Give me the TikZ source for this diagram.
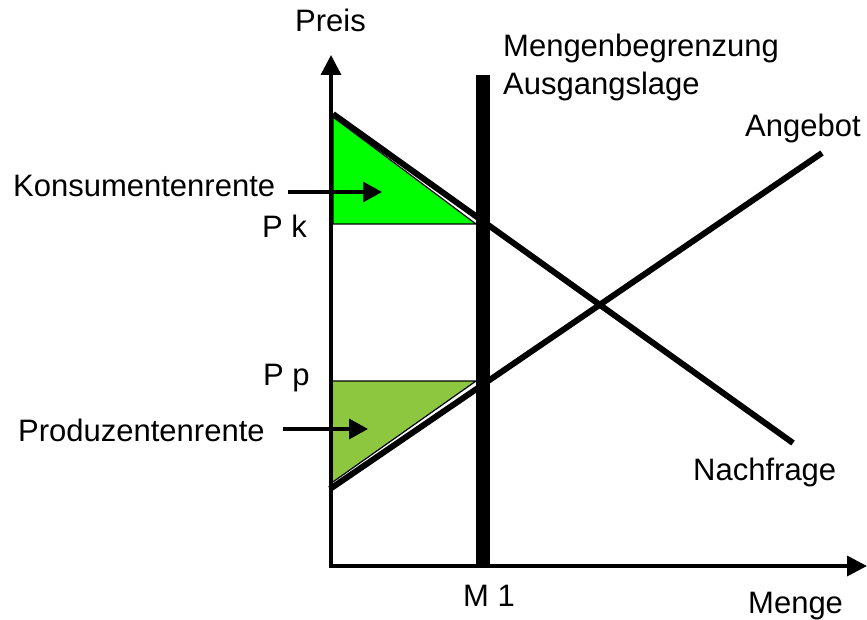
\documentclass[tikz,border=0pt]{standalone}
\usepackage{fontspec}
\setmainfont{Liberation Sans}
\usetikzlibrary{arrows.meta}
\definecolor{kgreen}{RGB}{0,255,0}
\definecolor{pgreen}{RGB}{141,198,63}
\begin{document}
\begin{tikzpicture}[x=1pt,y=-1pt,
  lbl/.style={font=\fontsize{31}{36}\selectfont, inner sep=0pt, anchor=base west},
  axisline/.style={line width=3.5pt, -{Triangle[length=20pt,width=20pt]}},
  curveline/.style={line width=6pt},
  pointer/.style={line width=3.5pt, -{Triangle[length=19pt,width=20pt]}},
  area/.style={draw=black, line width=1.2pt}]
\useasboundingbox (0,0) rectangle (867,620);

% coordinates
\coordinate (origin) at (331,566);
\coordinate (ytop) at (331,55);
\coordinate (xend) at (867,566);
\coordinate (dstart) at (333,114);
\coordinate (dend) at (793,443);
\coordinate (sstart) at (330,489);
\coordinate (send) at (822,153);
\coordinate (bartop) at (483,75);
\coordinate (barbot) at (483,566);

% surplus areas
\filldraw[area, fill=kgreen] (333,117) -- (333,224) -- (476,224) -- cycle;
\filldraw[area, fill=pgreen] (332,381) -- (476,381) -- (330,484) -- cycle;

% demand and supply
\draw[curveline] (dstart) -- (dend);
\draw[curveline] (sstart) -- (send);

% quantity limit
\draw[line width=14pt] (bartop) -- (barbot);

% axes
\draw[axisline] (331,568) -- (ytop);
\draw[axisline] (329,566) -- (xend);

% labels
\node[lbl] (preis) at (295,32) {Preis};
\node[lbl] (mb1) at (503,57) {Mengenbegrenzung};
\node[lbl] (mb2) at (503,95) {Ausgangslage};
\node[lbl] (angebot) at (745,137) {Angebot};
\node[lbl] (kons) at (13,197) {Konsumentenrente};
\node[lbl] (pk) at (262,238) {P k};
\node[lbl] (pp) at (263,385) {P p};
\node[lbl] (prod) at (18,441) {Produzentenrente};
\node[lbl] (nach) at (693,480) {Nachfrage};
\node[lbl] (m1) at (463,606) {M 1};
\node[lbl] (menge) at (748,613) {Menge};

% pointers
\coordinate (kfrom) at (288,192);
\coordinate (kto) at (382,192);
\coordinate (pfrom) at (283,429);
\coordinate (pto) at (368,429);
\draw[pointer] (kfrom) -- (kto);
\draw[pointer] (pfrom) -- (pto);
\end{tikzpicture}
\end{document}
